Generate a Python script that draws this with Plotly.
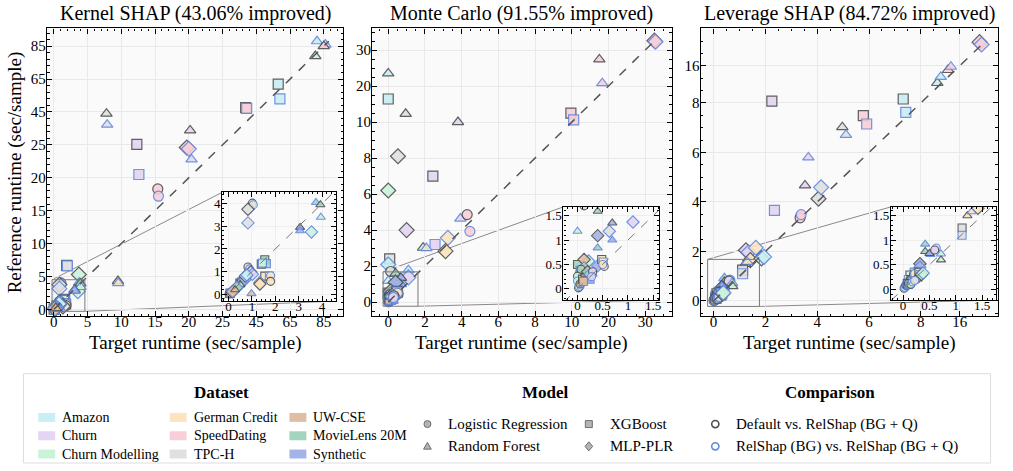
import plotly.graph_objects as go

W, H = 1013, 471
FONT = "Liberation Serif, Tinos, Times New Roman, DejaVu Serif, serif"

# ---- categories ---------------------------------------------------------
ds_codes = ["AMZ", "CHN", "CHM", "GER", "SPD", "TPC", "UW", "ML", "SYN"]
ds_names = ["Amazon", "Churn", "Churn Modelling", "German Credit", "SpeedDating",
            "TPC-H", "UW-CSE", "MovieLens 20M", "Synthetic"]
ds_colors = ["#c9eef3", "#e3d5f3", "#cbf3da", "#fbe4c0", "#f8cfd9",
             "#e0e0e0", "#dfbfa3", "#a3d4bf", "#a5b4e8"]
model_codes = ["LR", "RF", "XGB", "MLP"]
model_names = ["Logistic Regression", "Random Forest", "XGBoost", "MLP-PLR"]
model_symbols = ["circle", "triangle-up", "square", "diamond"]
cmp_codes = ["D", "R"]
cmp_names = ["Default vs. RelShap (BG + Q)", "RelShap (BG) vs. RelShap (BG + Q)"]
cmp_edges = ["#4e4e4e", "#6088e0"]

# ---- Kernel SHAP ----------------------------------------------------------
ks_ds = ["AMZ", "AMZ", "SPD", "SPD", "AMZ", "AMZ", "SPD", "SPD", "TPC", "TPC",
         "CHN", "CHN", "CHN", "CHN", "SPD", "SPD", "SPD", "SPD", "GER", "GER",
         "TPC", "TPC", "CHM", "CHM", "TPC", "TPC", "TPC", "TPC", "ML", "ML",
         "CHM", "SYN", "SYN", "ML", "ML", "CHM", "CHM", "CHN", "CHN", "CHN",
         "CHN", "GER", "GER", "GER", "GER", "GER", "GER", "UW", "SYN", "SYN",
         "SYN", "SYN", "SYN", "SYN", "AMZ", "AMZ", "AMZ", "AMZ", "CHM", "CHM",
         "CHM", "ML", "ML", "ML", "ML", "UW", "UW", "UW", "UW", "UW",
         "UW", "UW"]
ks_model = ["RF", "RF", "RF", "RF", "XGB", "XGB", "XGB", "XGB", "RF", "RF",
            "RF", "RF", "XGB", "XGB", "MLP", "MLP", "LR", "LR", "RF", "RF",
            "XGB", "XGB", "MLP", "MLP", "LR", "LR", "MLP", "MLP", "RF", "RF",
            "RF", "RF", "RF", "XGB", "XGB", "XGB", "XGB", "LR", "LR", "MLP",
            "MLP", "XGB", "XGB", "LR", "LR", "MLP", "MLP", "RF", "LR", "LR",
            "XGB", "XGB", "MLP", "MLP", "LR", "LR", "MLP", "MLP", "LR", "LR",
            "RF", "LR", "LR", "MLP", "MLP", "LR", "LR", "XGB", "XGB", "MLP",
            "MLP", "RF"]
ks_cmp = ["R", "D", "R", "D", "D", "R", "D", "R", "D", "R",
          "D", "R", "D", "R", "D", "R", "D", "R", "D", "R",
          "D", "R", "D", "R", "D", "R", "D", "R", "R", "D",
          "R", "D", "R", "D", "R", "D", "R", "D", "R", "D",
          "R", "D", "R", "R", "D", "R", "D", "R", "D", "R",
          "D", "R", "D", "R", "D", "R", "D", "R", "D", "R",
          "D", "D", "R", "D", "R", "D", "R", "D", "R", "D",
          "R", "D"]
ks_target = [81, 80, 86, 85, 58, 59, 38.7, 39.3, 7.8, 7.9,
             20.2, 20.4, 12.3, 12.6, 19.7, 20.0, 15.4, 15.5, 9.5, 9.55,
             1.9, 2.0, 3.7, 3.55, 1.02, 1.06, 0.83, 0.83, 3.74, 3.93,
             3.95, 3.06, 3.06, 1.55, 1.62, 1.4, 1.45, 0.83, 0.9, 0.95,
             1.02, 1.55, 1.75, 1.8, 1.8, 1.34, 1.34, 0.98, 0.2, 0.25,
             0.48, 0.55, 0.62, 0.7, 0.05, 0.1, 0.72, 0.78, 0.4, 0.45,
             0.5, 0.12, 0.15, 0.3, 0.35, 0.02, 0.04, 0.06, 0.08, 0.16,
             0.18, 0.28]
ks_ref = [88, 79, 86, 85, 62, 53, 47.6, 47.2, 44, 37.3,
          33.8, 22.8, 25.3, 20.5, 24.6, 24.4, 18.3, 17.2, 4.3, 4.0,
          6.7, 6.6, 5.3, 2.75, 4.02, 3.95, 3.75, 3.15, 4.05, 3.95,
          3.4, 2.95, 2.8, 1.52, 1.35, 1.33, 1.38, 1.2, 1.12, 0.98,
          0.88, 0.8, 0.8, 0.82, 0.57, 0.52, 0.45, 0.03, 0.15, 0.2,
          0.5, 0.55, 0.6, 0.65, 0.02, 0.06, 0.8, 0.85, 0.32, 0.35,
          0.42, 0.06, 0.1, 0.25, 0.3, 0.01, 0.02, 0.04, 0.05, 0.1,
          0.12, 0.2]
ks_ticks = [0, 5, 10, 15, 20, 25, 45, 65, 85]
ks_inset_ticks = [0, 1, 2, 3, 4]

# ---- Monte Carlo ----------------------------------------------------------
mc_ds = ["SPD", "SPD", "SPD", "SPD", "AMZ", "AMZ", "AMZ", "AMZ", "TPC", "TPC",
         "CHN", "CHN", "SPD", "SPD", "TPC", "TPC", "CHN", "CHN", "CHM", "CHM",
         "CHN", "CHN", "SPD", "SPD", "GER", "GER", "CHM", "GER", "GER", "TPC",
         "TPC", "AMZ", "AMZ", "TPC", "TPC", "ML", "ML", "CHM", "SYN", "SYN",
         "SYN", "SYN", "ML", "ML", "UW", "UW", "GER", "GER", "GER", "GER",
         "CHM", "CHM", "ML", "SYN", "SYN", "SYN", "SYN", "AMZ", "AMZ", "UW",
         "UW", "UW", "UW", "UW", "ML", "ML", "CHN", "CHN"]
mc_model = ["MLP", "MLP", "RF", "RF", "RF", "RF", "XGB", "XGB", "RF", "RF",
            "RF", "RF", "XGB", "XGB", "MLP", "MLP", "XGB", "XGB", "MLP", "MLP",
            "MLP", "MLP", "LR", "LR", "MLP", "MLP", "RF", "RF", "RF", "XGB",
            "XGB", "MLP", "MLP", "LR", "LR", "RF", "RF", "RF", "RF", "RF",
            "MLP", "MLP", "XGB", "XGB", "MLP", "MLP", "XGB", "XGB", "LR", "LR",
            "LR", "LR", "LR", "LR", "LR", "XGB", "XGB", "LR", "LR", "LR",
            "LR", "XGB", "XGB", "RF", "MLP", "MLP", "LR", "LR"]
mc_cmp = ["D", "R", "D", "R", "D", "R", "D", "R", "D", "R",
          "D", "R", "D", "R", "D", "R", "D", "R", "D", "R",
          "D", "R", "D", "R", "R", "D", "D", "R", "D", "D",
          "R", "R", "D", "D", "R", "D", "R", "R", "D", "R",
          "D", "R", "D", "R", "D", "R", "D", "R", "D", "R",
          "D", "R", "D", "D", "R", "D", "R", "D", "R", "D",
          "R", "D", "R", "D", "D", "R", "D", "R"]
mc_target = [32.5, 32.8, 17.5, 18.3, 0.0, 1.1, 0.0, 0.05, 0.95, 0.3,
             3.8, 3.93, 9.95, 10.5, 0.53, 0.63, 2.43, 2.55, 0.0, 0.22,
             1.0, 1.1, 4.3, 4.45, 3.25, 3.12, 1.9, 2.08, 0.2, 0.08,
             0.1, 0.0, 0.15, 0.13, 0.05, 0.4, 0.4, 0.0, 0.69, 0.69,
             0.4, 0.4, 0.0, 0.05, 0.13, 0.13, 0.48, 0.51, 0.53, 0.5,
             0.0, 0.0, 0.07, 0.1, 0.05, 0.2, 0.25, 0.02, 0.03, 0.05,
             0.08, 0.1, 0.12, 0.15, 0.2, 0.25, 0.3, 0.28]
mc_ref = [32.6, 32.3, 27.4, 20.8, 23.5, 1.77, 16.4, 0.28, 12.3, 0.3,
          10.0, 4.64, 12.5, 10.6, 8.1, 1.18, 7.0, 3.2, 6.2, 0.57,
          4.0, 1.37, 4.86, 3.93, 3.57, 2.83, 3.02, 3.0, 0.35, 2.4,
          0.2, 2.09, 0.3, 1.7, 0.12, 1.59, 0.84, 1.18, 1.35, 1.0,
          1.09, 0.47, 0.5, 0.38, 0.6, 0.43, 0.6, 0.55, 0.46, 0.5,
          0.26, 0.16, 0.4, 0.15, 0.05, 0.25, 0.2, 0.02, 0.05, 0.1,
          0.12, 0.2, 0.15, 0.3, 0.35, 0.3, 0.35, 0.25]
mc_ticks = [0, 2, 4, 6, 8, 10, 20, 30]
mc_inset_ticks = [0, 0.5, 1, 1.5]

# ---- Leverage SHAP --------------------------------------------------------
lv_ds = ["SPD", "SPD", "SPD", "SPD", "AMZ", "AMZ", "AMZ", "AMZ", "CHN", "CHN",
         "SPD", "SPD", "TPC", "TPC", "CHN", "CHN", "TPC", "TPC", "SPD", "SPD",
         "CHN", "CHN", "GER", "GER", "AMZ", "AMZ", "GER", "GER", "TPC", "TPC",
         "ML", "ML", "SYN", "SYN", "CHN", "CHN", "CHM", "CHM", "SYN", "SYN",
         "ML", "ML", "CHM", "CHM", "SYN", "SYN", "SYN", "SYN", "AMZ", "AMZ",
         "UW", "UW", "UW", "UW", "UW", "UW", "UW", "UW", "ML", "ML",
         "ML", "ML", "CHM", "CHM", "GER", "GER", "GER", "GER", "TPC", "TPC",
         "CHM", "CHM"]
lv_model = ["MLP", "MLP", "RF", "RF", "RF", "RF", "XGB", "XGB", "XGB", "XGB",
            "XGB", "XGB", "RF", "RF", "RF", "RF", "MLP", "MLP", "LR", "LR",
            "MLP", "MLP", "MLP", "MLP", "MLP", "MLP", "RF", "RF", "XGB", "XGB",
            "RF", "RF", "RF", "RF", "LR", "LR", "RF", "RF", "MLP", "MLP",
            "XGB", "XGB", "XGB", "XGB", "LR", "LR", "XGB", "XGB", "LR", "LR",
            "LR", "LR", "RF", "RF", "XGB", "XGB", "MLP", "MLP", "LR", "LR",
            "MLP", "MLP", "LR", "LR", "LR", "LR", "XGB", "XGB", "LR", "LR",
            "MLP", "MLP"]
lv_cmp = ["D", "R", "D", "R", "D", "R", "D", "R", "D", "R",
          "D", "R", "D", "R", "D", "R", "D", "R", "D", "R",
          "D", "R", "R", "D", "D", "R", "D", "R", "D", "R",
          "R", "D", "R", "D", "R", "D", "R", "D", "D", "R",
          "D", "R", "D", "R", "D", "R", "D", "R", "D", "R",
          "D", "R", "D", "R", "D", "R", "D", "R", "D", "R",
          "D", "R", "D", "R", "D", "R", "D", "R", "D", "R",
          "D", "R"]
lv_target = [20.1, 20.5, 13.6, 14.2, 11.4, 12.1, 7.32, 7.42, 2.25, 2.35,
             5.78, 5.91, 4.97, 5.11, 3.53, 3.66, 4.05, 4.15, 3.34, 3.38,
             1.25, 1.35, 1.63, 1.42, 1.85, 1.95, 1.22, 1.3, 1.12, 1.12,
             0.42, 0.42, 0.52, 0.5, 0.63, 0.6, 0.72, 0.72, 0.32, 0.32,
             0.28, 0.21, 0.13, 0.1, 0.05, 0.08, 0.15, 0.2, 0.02, 0.03,
             0.05, 0.06, 0.1, 0.12, 0.08, 0.1, 0.18, 0.2, 0.1, 0.12,
             0.25, 0.28, 0.15, 0.18, 0.2, 0.22, 0.3, 0.32, 0.25, 0.22,
             0.35, 0.38]
lv_ref = [21.1, 20.6, 15.1, 15.8, 12.3, 13.6, 8.85, 7.62, 8.4, 3.66,
          7.49, 7.15, 7.02, 6.71, 4.67, 5.8, 4.13, 4.59, 3.36, 3.49,
          2.05, 1.97, 2.15, 1.65, 1.72, 1.78, 1.5, 1.58, 1.25, 1.1,
          0.92, 0.77, 0.71, 0.73, 0.84, 0.8, 0.72, 0.6, 0.52, 0.45,
          0.25, 0.35, 0.29, 0.2, 0.05, 0.1, 0.2, 0.25, 0.02, 0.04,
          0.08, 0.1, 0.15, 0.18, 0.12, 0.1, 0.22, 0.2, 0.12, 0.1,
          0.3, 0.28, 0.1, 0.15, 0.3, 0.32, 0.35, 0.3, 0.2, 0.18,
          0.3, 0.33]
lv_ticks = [0, 2, 4, 6, 8, 16]
lv_inset_ticks = [0, 0.5, 1, 1.5]


def squash(v, brk, k):
    # linear up to the break, compressed above it
    return v if v <= brk else brk + (v - brk) * k


def px_x(p):
    return p / W


def px_y(p):
    return 1 - p / H


def fmt(v):
    return f"{v:g}"


panels = [
    dict(title="Kernel SHAP (43.06% improved)", ds=ks_ds, model=ks_model, cmp=ks_cmp,
         x=ks_target, y=ks_ref, ticks=ks_ticks, brk=25, k=0.25,
         xr=(-1.03, 42.9), yr=(-1.06, 42.7), minor=1,
         ix=(-0.27, 4.6), iy=(-0.3, 4.5), iticks=ks_inset_ticks, iminor=0.2,
         px=(47, 344), ipx=(222.7, 336.7), ipy=(192.7, 301.7)),
    dict(title="Monte Carlo (91.55% improved)", ds=mc_ds, model=mc_model, cmp=mc_cmp,
         x=mc_target, y=mc_ref, ticks=mc_ticks, brk=10, k=0.2,
         xr=(-0.87, 15.44), yr=(-0.79, 15.2), minor=0.5,
         ix=(-0.28, 1.62), iy=(-0.23, 1.68), iticks=mc_inset_ticks, iminor=0.1,
         px=(373, 673), ipx=(564.5, 660.5), ipy=(207.3, 300.7)),
    dict(title="Leverage SHAP (84.72% improved)", ds=lv_ds, model=lv_model, cmp=lv_cmp,
         x=lv_target, y=lv_ref, ticks=lv_ticks, brk=8, k=0.1875,
         xr=(-0.5, 10.98), yr=(-0.62, 11.01), minor=0.5,
         ix=(-0.23, 1.77), iy=(-0.22, 1.68), iticks=lv_inset_ticks, iminor=0.1,
         px=(702, 1000), ipx=(892.7, 998.3), ipy=(207.3, 300.7)),
]
MAIN_PY = (28.5, 317)

fig = go.Figure()
shapes = []
annotations = []

for i, p in enumerate(panels):
    m, n = 2 * i + 1, 2 * i + 2
    xm, ym = ("x", "y") if m == 1 else (f"x{m}", f"y{m}")
    xn, yn = f"x{n}", f"y{n}"
    tx = [squash(v, p["brk"], p["k"]) for v in p["x"]]
    ty = [squash(v, p["brk"], p["k"]) for v in p["y"]]
    fills = [ds_colors[ds_codes.index(d)] for d in p["ds"]]
    symbols = [model_symbols[model_codes.index(mo)] for mo in p["model"]]
    edges = [cmp_edges[cmp_codes.index(c)] for c in p["cmp"]]
    size_main = [11.5 if s == "diamond" else 10 for s in symbols]
    size_in = [9.5 if s == "diamond" else 8 for s in symbols]

    # main scatter
    fig.add_trace(go.Scatter(x=tx, y=ty, xaxis=xm, yaxis=ym, mode="markers", showlegend=False,
                             marker=dict(symbol=symbols, color=fills, size=size_main, opacity=0.9,
                                         line=dict(color=edges, width=1.2))))
    hi = max(tx + ty)
    fig.add_trace(go.Scatter(x=[0, hi], y=[0, hi], xaxis=xm, yaxis=ym, mode="lines", showlegend=False,
                             line=dict(color="#555555", width=1.5, dash="dash")))
    # inset scatter
    fig.add_trace(go.Scatter(x=p["x"], y=p["y"], xaxis=xn, yaxis=yn, mode="markers", showlegend=False,
                             marker=dict(symbol=symbols, color=fills, size=size_in, opacity=0.9,
                                         line=dict(color=edges, width=1.1))))
    lo_i, hi_i = min(p["ix"][0], p["iy"][0]), max(p["ix"][1], p["iy"][1])
    fig.add_trace(go.Scatter(x=[lo_i, hi_i], y=[lo_i, hi_i], xaxis=xn, yaxis=yn, mode="lines",
                             showlegend=False, line=dict(color="#777777", width=1, dash="dash")))

    dom_x = [px_x(p["px"][0]), px_x(p["px"][1])]
    dom_y = [px_y(MAIN_PY[1]), px_y(MAIN_PY[0])]
    idom_x = [px_x(p["ipx"][0]), px_x(p["ipx"][1])]
    idom_y = [px_y(p["ipy"][1]), px_y(p["ipy"][0])]

    common = dict(showline=True, linecolor="black", linewidth=1.3, mirror="allticks",
                  ticks="inside", ticklen=5, tickwidth=1, tickcolor="black",
                  zeroline=False, showgrid=True, gridwidth=1)
    tvals = [squash(t, p["brk"], p["k"]) for t in p["ticks"]]
    ttext = [fmt(t) for t in p["ticks"]]
    minor_main = dict(ticks="inside", ticklen=2.5, tickcolor="black", dtick=p["minor"], tick0=0, showgrid=False)
    minor_in = dict(ticks="inside", ticklen=2, tickcolor="black", dtick=p["iminor"], tick0=0, showgrid=False)
    fig.layout[f"xaxis{'' if m == 1 else m}"] = dict(
        domain=dom_x, range=list(p["xr"]), anchor=ym, tickmode="array", tickvals=tvals, ticktext=ttext,
        gridcolor="#e9e9e9", tickfont=dict(size=15), minor=minor_main, ticklabelstandoff=-8, **common)
    fig.layout[f"yaxis{'' if m == 1 else m}"] = dict(
        domain=dom_y, range=list(p["yr"]), anchor=xm, tickmode="array", tickvals=tvals, ticktext=ttext,
        gridcolor="#e9e9e9", tickfont=dict(size=15), minor=minor_main, ticklabelstandoff=-3, **common)
    fig.layout[f"xaxis{n}"] = dict(
        domain=idom_x, range=list(p["ix"]), anchor=yn, tickmode="array", tickvals=p["iticks"],
        ticktext=[fmt(t) for t in p["iticks"]], gridcolor="#eeeeee", tickfont=dict(size=13),
        ticklabelstandoff=-7, minor=minor_in, **common)
    fig.layout[f"yaxis{n}"] = dict(
        domain=idom_y, range=list(p["iy"]), anchor=xn, tickmode="array", tickvals=p["iticks"],
        ticktext=[fmt(t) for t in p["iticks"]], gridcolor="#eeeeee", tickfont=dict(size=13),
        ticklabelstandoff=-2, minor=minor_in, **common)

    # zoom box and connectors
    shapes.append(dict(type="rect", xref=xm, yref=ym, x0=p["ix"][0], x1=p["ix"][1],
                       y0=p["iy"][0], y1=p["iy"][1], line=dict(color="#7a7a7a", width=1), layer="above"))

    def to_paper(t, rng, dom):
        return dom[0] + (t - rng[0]) / (rng[1] - rng[0]) * (dom[1] - dom[0])

    bx0, bx1 = to_paper(p["ix"][0], p["xr"], dom_x), to_paper(p["ix"][1], p["xr"], dom_x)
    by0, by1 = to_paper(p["iy"][0], p["yr"], dom_y), to_paper(p["iy"][1], p["yr"], dom_y)
    shapes.append(dict(type="line", xref="paper", yref="paper", x0=bx0, y0=by1, x1=idom_x[0], y1=idom_y[1],
                       line=dict(color="#8a8a8a", width=1), layer="below"))
    shapes.append(dict(type="line", xref="paper", yref="paper", x0=bx1, y0=by0, x1=idom_x[1], y1=idom_y[0],
                       line=dict(color="#8a8a8a", width=1), layer="below"))

    cx = (dom_x[0] + dom_x[1]) / 2
    annotations.append(dict(text=p["title"], x=cx, y=px_y(14), xref="paper", yref="paper",
                            showarrow=False, font=dict(size=20), xanchor="center", yanchor="middle"))
    annotations.append(dict(text="Target runtime (sec/sample)", x=cx, y=px_y(344), xref="paper", yref="paper",
                            showarrow=False, font=dict(size=19), xanchor="center", yanchor="middle"))

annotations.append(dict(text="Reference runtime (sec/sample)", x=px_x(15), y=px_y(sum(MAIN_PY) / 2),
                        xref="paper", yref="paper", showarrow=False, textangle=-90,
                        font=dict(size=19), xanchor="center", yanchor="middle"))

# ---- legend (drawn by hand: three titled groups) ---------------------------
shapes.append(dict(type="rect", xref="paper", yref="paper", x0=px_x(23.5), x1=px_x(992.5),
                   y0=px_y(464), y1=px_y(374.5), line=dict(color="#dddddd", width=1), fillcolor="white"))
for title, cx in [("Dataset", 221.7), ("Model", 546.7), ("Comparison", 831.7)]:
    annotations.append(dict(text=f"<b>{title}</b>", x=px_x(cx), y=px_y(393), xref="paper", yref="paper",
                            showarrow=False, font=dict(size=17), xanchor="center", yanchor="middle"))

ds_cols = [38.3, 170, 290]
ds_rows = [418.3, 436.7, 455]
for j, (name, col) in enumerate(zip(ds_names, ds_colors)):
    x0, y = ds_cols[j // 3], ds_rows[j % 3]
    shapes.append(dict(type="rect", xref="paper", yref="paper", x0=px_x(x0), x1=px_x(x0 + 17),
                       y0=px_y(y + 4.5), y1=px_y(y - 4.5), line=dict(width=0), fillcolor=col))
    annotations.append(dict(text=name, x=px_x(x0 + 22), y=px_y(y), xref="paper", yref="paper",
                            showarrow=False, font=dict(size=14), xanchor="left", yanchor="middle"))


def glyph(symbol, cx, cy, r, fill, edge, width):
    if symbol == "circle":
        return dict(type="circle", xref="paper", yref="paper", x0=px_x(cx - r), x1=px_x(cx + r),
                    y0=px_y(cy + r), y1=px_y(cy - r), fillcolor=fill, line=dict(color=edge, width=width))
    if symbol == "square":
        pts = [(cx - r, cy - r), (cx + r, cy - r), (cx + r, cy + r), (cx - r, cy + r)]
    elif symbol == "triangle-up":
        pts = [(cx, cy - r * 1.15), (cx + r * 1.1, cy + r * 0.8), (cx - r * 1.1, cy + r * 0.8)]
    else:
        pts = [(cx, cy - r * 1.3), (cx + r * 1.1, cy), (cx, cy + r * 1.3), (cx - r * 1.1, cy)]
    path = "M " + " L ".join(f"{px_x(a):.5f},{px_y(b):.5f}" for a, b in pts) + " Z"
    return dict(type="path", xref="paper", yref="paper", path=path, fillcolor=fill,
                line=dict(color=edge, width=width))


md_cols = [428.3, 590]
leg_rows = [425, 447.3]
for j, (name, sym) in enumerate(zip(model_names, model_symbols)):
    cx, cy = md_cols[j // 2], leg_rows[j % 2]
    shapes.append(glyph(sym, cx, cy, 3.5, "#b4b4b4", "#6e6e6e", 1))
    annotations.append(dict(text=name, x=px_x(cx + 19), y=px_y(cy), xref="paper", yref="paper",
                            showarrow=False, font=dict(size=15), xanchor="left", yanchor="middle"))
for j, (name, edge) in enumerate(zip(cmp_names, cmp_edges)):
    cx, cy = 716.7, leg_rows[j]
    shapes.append(glyph("circle", cx, cy, 3.6, "rgba(0,0,0,0)", edge, 1.6))
    annotations.append(dict(text=name, x=px_x(cx + 18.5), y=px_y(cy), xref="paper", yref="paper",
                            showarrow=False, font=dict(size=15), xanchor="left", yanchor="middle"))

fig.update_layout(width=W, height=H, margin=dict(l=0, r=0, t=0, b=0),
                  paper_bgcolor="white", plot_bgcolor="#fafafa",
                  font=dict(family=FONT, color="black"),
                  shapes=shapes, annotations=annotations, showlegend=False)
# the page's default body margin would push the figure 8px down/right
fig.write_html("out.html", config={"displayModeBar": False},
               post_script="document.body.style.margin='0';")
